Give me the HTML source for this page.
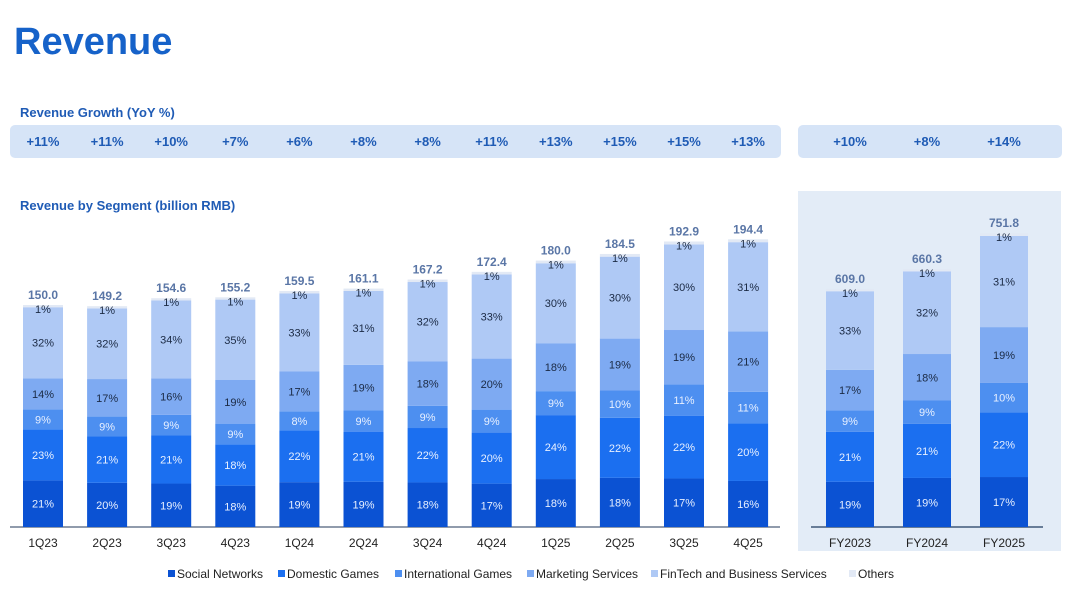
<!DOCTYPE html>
<html><head><meta charset="utf-8"><style>
body{margin:0;background:#fff;font-family:"Liberation Sans",Arial,sans-serif}
svg{display:block}
</style></head><body>
<svg id="c" width="1080" height="598" viewBox="0 0 1080 598" xmlns="http://www.w3.org/2000/svg">
<text x="14" y="54" font-size="38" font-weight="bold" fill="#1662c9">Revenue</text>
<text x="20" y="117" font-size="13" font-weight="bold" fill="#1f5bb5">Revenue Growth (YoY %)</text>
<rect x="10" y="125" width="771" height="33" rx="5" fill="#d6e4f7"/>
<rect x="798" y="125" width="264" height="33" rx="5" fill="#d6e4f7"/>
<text x="20" y="210" font-size="13" font-weight="bold" fill="#1f5bb5">Revenue by Segment (billion RMB)</text>
<rect x="798" y="191" width="263" height="360" fill="#e3ecf7"/>
<line x1="10" y1="527" x2="780" y2="527" stroke="#6b7a90" stroke-width="1.5"/>
<line x1="811" y1="527" x2="1043" y2="527" stroke="#3f5878" stroke-width="1.5"/>
<g id="bars"></g>
<g id="legend"></g>
</svg>
<script>
const qCats=["1Q23","2Q23","3Q23","4Q23","1Q24","2Q24","3Q24","4Q24","1Q25","2Q25","3Q25","4Q25"];
const qTotals=[150.0,149.2,154.6,155.2,159.5,161.1,167.2,172.4,180.0,184.5,192.9,194.4];
const qGrowth=["+11%","+11%","+10%","+7%","+6%","+8%","+8%","+11%","+13%","+15%","+15%","+13%"];
const qSocial=[21,20,19,18,19,19,18,17,18,18,17,16];
const qDomestic=[23,21,21,18,22,21,22,20,24,22,22,20];
const qIntl=[9,9,9,9,8,9,9,9,9,10,11,11];
const qMarketing=[14,17,16,19,17,19,18,20,18,19,19,21];
const qFintech=[32,32,34,35,33,31,32,33,30,30,30,31];
const qOthers=[1,1,1,1,1,1,1,1,1,1,1,1];
const fyCats=["FY2023","FY2024","FY2025"];
const fyTotals=[609.0,660.3,751.8];
const fyGrowth=["+10%","+8%","+14%"];
const fySocial=[19,19,17];
const fyDomestic=[21,21,22];
const fyIntl=[9,9,10];
const fyMarketing=[17,18,19];
const fyFintech=[33,32,31];
const fyOthers=[1,1,1];
const segNames=["Social Networks","Domestic Games","International Games","Marketing Services","FinTech and Business Services","Others"];
const colors=["#0b52d3","#1b6ff0","#4d8ff0","#7eaaf2","#afc9f5","#e2e9f5"];
const txtCol=["#e8f0ff","#e8f0ff","#e8f0ff","#1b2a44","#1b2a44","#1b2a44"];
const NS="http://www.w3.org/2000/svg";
const g=document.getElementById('bars');
const base=527;
function yQ(v){return base-v*1.48;}
function yF(v){return base-v*0.391;}
function xQ(i){return 43+i*64.1;}
function xF(i){return 850+i*77;}
function mk(tag,at,txt){const e=document.createElementNS(NS,tag);for(const k in at)e.setAttribute(k,at[k]);if(txt!=null)e.textContent=txt;g.appendChild(e);return e;}
function drawBar(cx,w,total,segs,yfn,cat,growth,prefix){
  const sum=segs.reduce((a,b)=>a+b,0);
  let cur=base;const H=base-yfn(total);
  segs.forEach((p,k)=>{
    const h=H*p/sum;
    const r=mk('rect',{x:cx-w/2,y:cur-h,width:w,height:h,fill:colors[k]});
    
    
    const ty=k===5?cur-h+8:cur-h/2+4;
    const t=mk('text',{x:cx,y:ty,'font-size':11,'text-anchor':'middle',fill:txtCol[k]},p+'%');
    
    
    cur-=h;
  });
  const tt=mk('text',{x:cx,y:cur-6,'font-size':12,'font-weight':'bold','text-anchor':'middle',fill:'#5a76a6'},total.toFixed(1));
  
  
  const xl=mk('text',{x:cx,y:547,'font-size':12,'text-anchor':'middle',fill:'#222'},cat);
  
  
  const gl=mk('text',{x:cx,y:146,'font-size':13,'font-weight':'bold','text-anchor':'middle',fill:'#1f5bb5'},growth);
  
  
}
qCats.forEach((c,i)=>drawBar(xQ(i),40,qTotals[i],[qSocial[i],qDomestic[i],qIntl[i],qMarketing[i],qFintech[i],qOthers[i]],yQ,c,qGrowth[i],'q'));
fyCats.forEach((c,i)=>drawBar(xF(i),48,fyTotals[i],[fySocial[i],fyDomestic[i],fyIntl[i],fyMarketing[i],fyFintech[i],fyOthers[i]],yF,c,fyGrowth[i],'fy'));
// legend
const lg=document.getElementById('legend');
const lx=[168,278,395,527,651,849];
segNames.forEach((n,k)=>{
  const r=document.createElementNS(NS,'rect');
  r.setAttribute('x',lx[k]);r.setAttribute('y',570);r.setAttribute('width',7);r.setAttribute('height',7);r.setAttribute('fill',colors[k]);
  
  
  lg.appendChild(r);
  const t=document.createElementNS(NS,'text');
  t.setAttribute('x',lx[k]+9);t.setAttribute('y',578);t.setAttribute('font-size',12);t.setAttribute('fill','#222');
  t.textContent=n;
  
  
  lg.appendChild(t);
});
</script>
</body></html>
